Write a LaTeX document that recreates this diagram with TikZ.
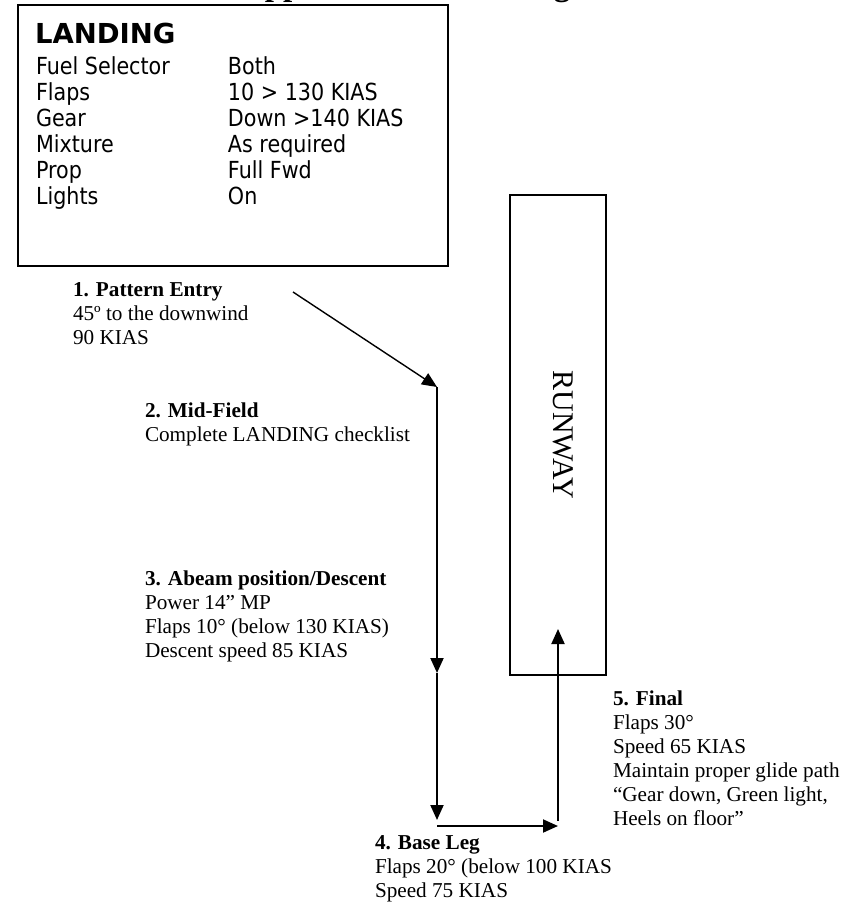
\documentclass[tikz,border=0pt]{standalone}
\usepackage{fontspec}
\setmainfont{Liberation Serif}
\newfontfamily\boxfont[FakeStretch=0.88]{DejaVu Sans}
\newfontfamily\headfont{DejaVu Sans}
\usetikzlibrary{arrows.meta}
\begin{document}
\begin{tikzpicture}[x=1pt,y=-1pt,
  every node/.style={inner sep=0pt, outer sep=0pt},
  txt/.style={anchor=base west, align=left, font=\fontsize{21.2}{24}\selectfont},
  flow/.style={line width=2pt, -{Triangle[length=15pt,width=13pt]}},
  frame/.style={draw, line width=2pt}]
\useasboundingbox (0,0) rectangle (860,902);
\clip (0,0) rectangle (860,902);
% cut-off title
\node[anchor=base west, font=\fontsize{33}{36}\selectfont\bfseries] (title) at (241,-5) {Approach and Landing};
% checklist box
\node[frame, minimum width=430pt, minimum height=261pt, anchor=north west] (checklist) at (18,5) {};
\node[anchor=base west, font=\headfont\bfseries\fontsize{27.5}{30}\selectfont] (head) at (35,43) {LANDING};
\node[anchor=base west, font=\boxfont\fontsize{23.5}{26}\selectfont] (items) at (36,74)
  {\begin{tabular}[t]{@{}p{192pt}@{}l@{}}
   Fuel Selector & Both\\
   Flaps & 10 > 130 KIAS\\
   Gear & Down >140 KIAS\\
   Mixture & As required\\
   Prop & Full Fwd\\
   Lights & On
   \end{tabular}};
% runway
\node[frame, minimum width=96pt, minimum height=480pt, anchor=north west] (runway) at (510,195) {};
\node[rotate=-90, font=\fontsize{30}{32}\selectfont] (rwlabel) at (563,435) {RUNWAY};
% pattern path
\coordinate (p1) at (293,292);
\coordinate (p2) at (437,387);
\coordinate (p3) at (437,673);
\coordinate (p4) at (437,820);
\coordinate (p5) at (437,826);
\coordinate (p6) at (558,826);
\coordinate (p7) at (558,821);
\coordinate (p8) at (558,629);
\draw[flow, line width=1.4pt] (p1) -- (p2);
\draw[flow] (p2) -- (p3);
\draw[flow] (p3) -- (p4);
\draw[flow] (p5) -- (p6);
\draw[flow] (p7) -- (p8);
% labels (base anchor = baseline of last line)
\node[txt] (entry) at (73,344) {\textbf{1. Pattern Entry}\\45º to the downwind\\90 KIAS};
\node[txt] (midfield) at (145,441) {\textbf{2. Mid-Field}\\Complete LANDING checklist};
\node[txt] (abeam) at (145,657) {\textbf{3. Abeam position/Descent}\\Power 14” MP\\Flaps 10° (below 130 KIAS)\\Descent speed 85 KIAS};
\node[txt] (base) at (375,897) {\textbf{4. Base Leg}\\Flaps 20° (below 100 KIAS\\Speed 75 KIAS};
\node[txt] (final) at (613,825) {\textbf{5. Final}\\Flaps 30°\\Speed 65 KIAS\\Maintain proper glide path\\“Gear down, Green light,\\Heels on floor”};
\end{tikzpicture}
\end{document}
